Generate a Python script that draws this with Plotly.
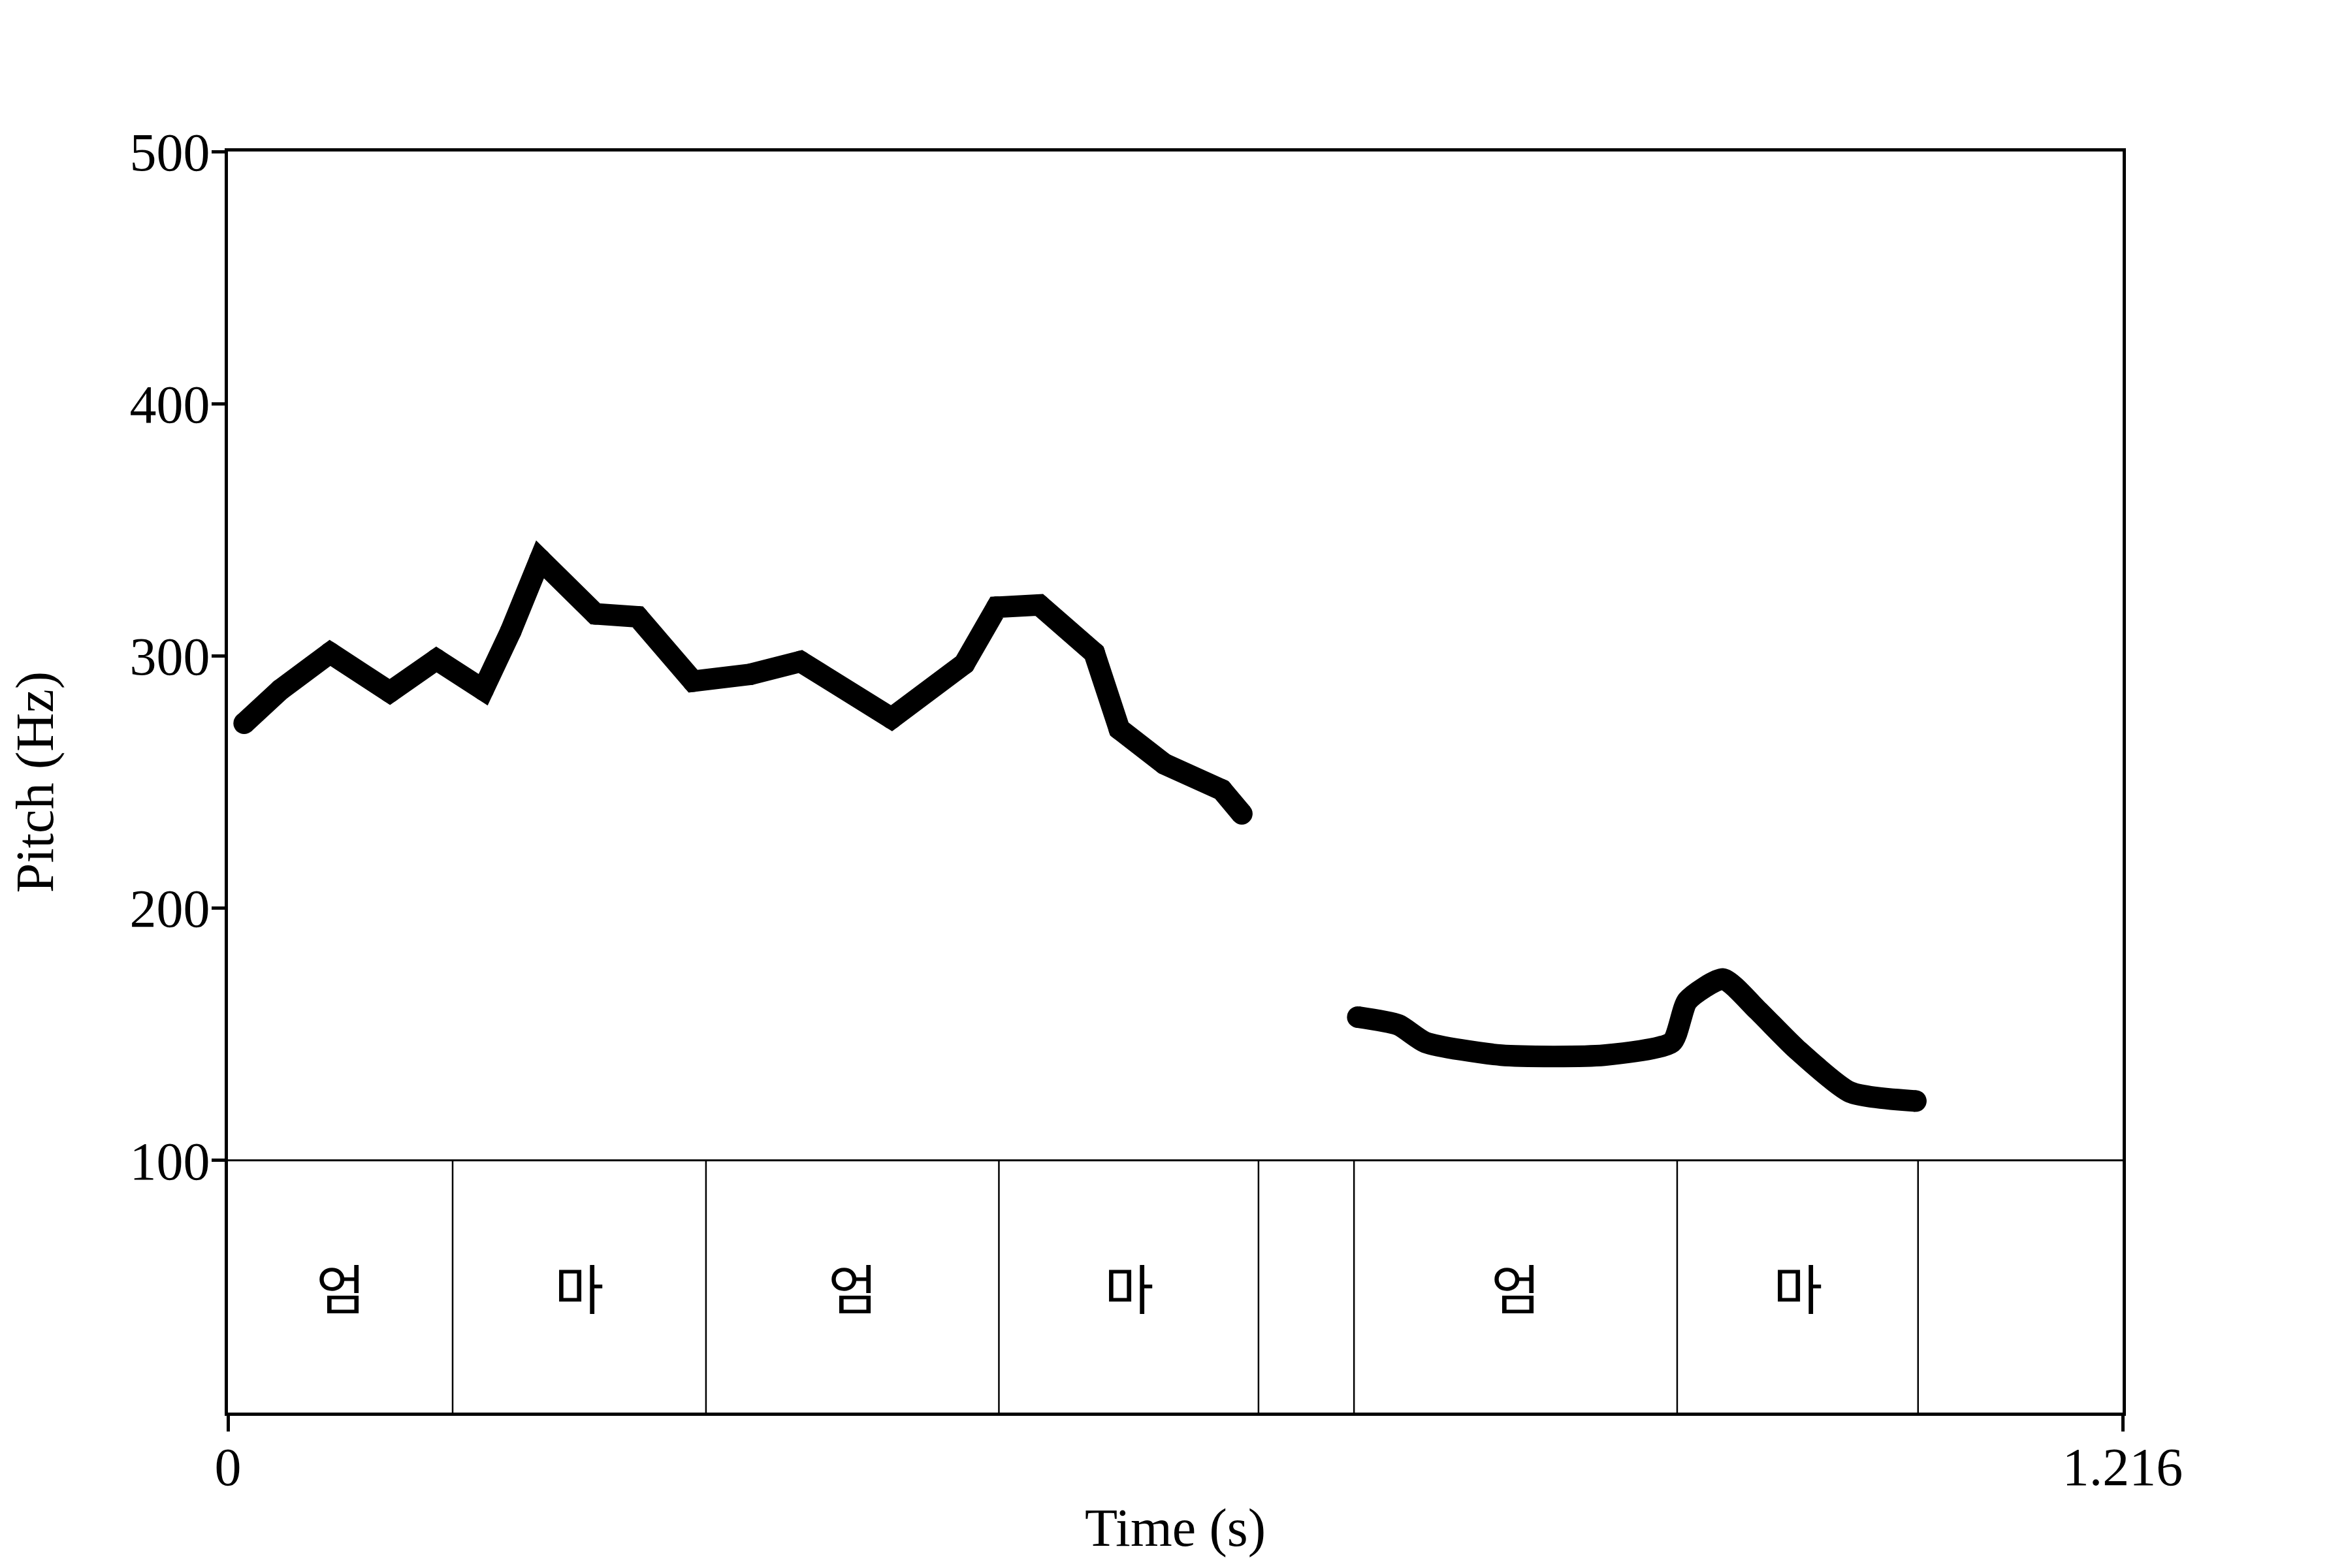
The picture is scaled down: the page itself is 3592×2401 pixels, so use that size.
import plotly.graph_objects as go

# Pitch contour, segment 1 (time s, pitch Hz)
seg1_time = [0.0104, 0.0337, 0.0655, 0.1039, 0.1338, 0.1638, 0.1815, 0.2003, 0.2358, 0.2630,
             0.2985, 0.3353, 0.3674, 0.4259, 0.4726, 0.4935, 0.5207, 0.5560, 0.5721, 0.6010,
             0.6378, 0.6507]
seg1_pitch = [273.3, 286.6, 301.2, 285.7, 298.6, 286.6, 309.8, 338.3, 316.7, 315.5,
              290.0, 292.7, 297.8, 275.3, 296.9, 319.3, 320.2, 301.2, 271.0, 257.2,
              246.9, 237.4]

# Pitch contour, segment 2
seg2_time = [0.7251, 0.7512, 0.7685, 0.8172, 0.8832, 0.9266, 0.9367, 0.9596, 0.9813, 1.0064,
             1.0413, 1.0833]
seg2_pitch = [156.8, 153.7, 146.8, 141.7, 141.7, 146.8, 163.3, 171.9, 159.8, 144.3,
              127.0, 123.5]

# Text tier intervals
tier_bounds = [0.0, 0.1442, 0.3068, 0.4948, 0.6614, 0.7227, 0.9301, 1.0847, 1.216]
tier_labels = ["엄", "마", "엄", "마", "", "엄", "마", ""]

x_max = 1.216
y_ticks = [100, 200, 300, 400, 500]
x_ticks = [0, 1.216]
x_ticklabels = ["0", "1.216"]
tier_top = 100

SERIF = "Liberation Serif, Times New Roman, serif"
KFONT = "Noto Sans CJK KR"
LW = 33

fig = go.Figure()
fig.add_trace(go.Scatter(x=seg1_time, y=seg1_pitch, mode="lines+markers",
                         line=dict(color="black", width=LW),
                         marker=dict(color="black", size=LW, opacity=1, line=dict(width=0)),
                         showlegend=False))
fig.add_trace(go.Scatter(x=seg2_time, y=seg2_pitch, mode="lines",
                         line=dict(color="black", width=LW, shape="spline", smoothing=0.6),
                         showlegend=False))
fig.add_trace(go.Scatter(x=[seg2_time[0], seg2_time[-1]], y=[seg2_pitch[0], seg2_pitch[-1]],
                         mode="markers",
                         marker=dict(color="black", size=LW, opacity=1, line=dict(width=0)),
                         showlegend=False))

# tier top line
fig.add_shape(type="line", xref="x", yref="y", x0=0, x1=x_max, y0=tier_top, y1=tier_top,
              line=dict(color="black", width=3))
# interval boundaries
for b in tier_bounds[1:-1]:
    fig.add_shape(type="line", xref="x", yref="y", x0=b, x1=b, y0=0, y1=tier_top,
                  line=dict(color="black", width=2.5))
# labels
for i, lab in enumerate(tier_labels):
    if lab:
        fig.add_annotation(x=(tier_bounds[i] + tier_bounds[i + 1]) / 2, y=tier_top / 2,
                           xref="x", yref="y", text=lab, showarrow=False,
                           font=dict(family=KFONT, size=82, color="black"))

fig.update_layout(
    width=3576, height=2385,
    margin=dict(l=341, r=334, t=224, b=230),
    paper_bgcolor="white", plot_bgcolor="white",
    font=dict(family=SERIF, size=82, color="black"),
)
fig.update_xaxes(range=[0, x_max], tickvals=x_ticks, ticktext=x_ticklabels,
                 showgrid=False, zeroline=False, showline=True, linewidth=5, linecolor="black",
                 mirror=True, ticks="outside", ticklen=24, tickwidth=5, tickcolor="black",
                 ticklabelstandoff=-16,
                 tickfont=dict(family=SERIF, size=82),
                 title=dict(text="Time (s)", font=dict(family=SERIF, size=82), standoff=20))
fig.update_yaxes(range=[0, 500], tickvals=y_ticks,
                 showgrid=False, zeroline=False, showline=True, linewidth=5, linecolor="black",
                 mirror=True, ticks="outside", ticklen=20, tickwidth=5, tickcolor="black",
                 ticklabelstandoff=-14,
                 tickfont=dict(family=SERIF, size=82),
                 title=dict(text="Pitch (Hz)", font=dict(family=SERIF, size=82), standoff=114))

fig.write_html("out.html")
